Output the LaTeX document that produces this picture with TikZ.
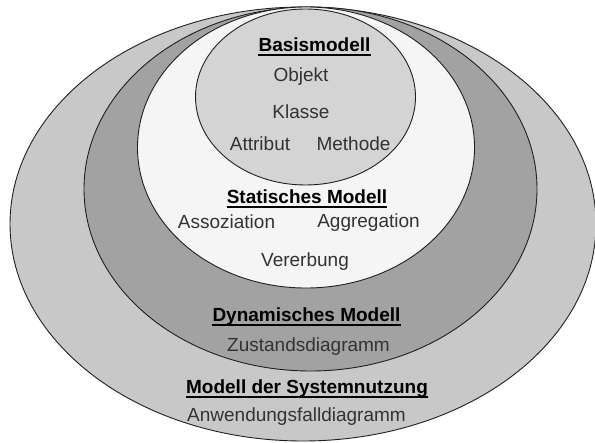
\documentclass[tikz,border=0pt]{standalone}
\usepackage{fontspec}
\setmainfont{Liberation Sans}
\definecolor{ringA}{HTML}{C8C8C8}
\definecolor{ringB}{HTML}{A2A2A2}
\definecolor{ringC}{HTML}{F5F5F5}
\definecolor{ringD}{HTML}{D4D4D4}
\definecolor{itemtext}{HTML}{333333}
\definecolor{edge}{HTML}{202020}
\begin{document}
\begin{tikzpicture}[x=1bp,y=-1bp,
  ring/.style={draw=edge,line width=0.9bp},
  heading/.style={anchor=base,inner sep=0pt,font=\fontsize{19bp}{22bp}\selectfont\bfseries,text=black},
  item/.style={anchor=base,inner sep=0pt,font=\fontsize{19bp}{22bp}\selectfont,text=itemtext},
  uline/.style={line width=2.8bp,black}]
\useasboundingbox (0,0) rectangle (595,443);
\fill[white] (0,0) rectangle (595,443);

% nested model layers, outermost first
\draw[ring,fill=ringA] (303,224) ellipse [x radius=293, y radius=217];
\draw[ring,fill=ringB] (310.5,189) ellipse [x radius=226.5, y radius=182];
\draw[ring,fill=ringC] (306,147.5) ellipse [x radius=168.5, y radius=140.5];
\draw[ring,fill=ringD] (305.5,97) ellipse [x radius=110, y radius=88];

% Basismodell
\node[heading] (basis) at (314.5,51.5) {Basismodell};
\draw[uline] ([yshift=-3.5bp]basis.base west) -- ([yshift=-3.5bp]basis.base east);
\node[item] (objekt) at (301,81.5) {Objekt};
\node[item] (klasse) at (301,118.5) {Klasse};
\node[item] (attribut) at (260,151) {Attribut};
\node[item] (methode) at (353.5,151) {Methode};

% Statisches Modell
\node[heading] (statisch) at (307,203.5) {Statisches Modell};
\draw[uline] ([yshift=-3.5bp]statisch.base west) -- ([yshift=-3.5bp]statisch.base east);
\node[item] (assoz) at (226.5,228.5) {Assoziation};
\node[item] (aggreg) at (368.5,228) {Aggregation};
\node[item] (vererb) at (305,266.5) {Vererbung};

% Dynamisches Modell
\node[heading] (dynam) at (306.5,321.5) {Dynamisches Modell};
\draw[uline] ([yshift=-3.5bp]dynam.base west) -- ([yshift=-3.5bp]dynam.base east);
\node[item] (zustand) at (308.5,351.5) {Zustandsdiagramm};

% Modell der Systemnutzung
\node[heading] (nutzung) at (307,393.5) {Modell der Systemnutzung};
\draw[uline] ([yshift=-3.5bp]nutzung.base west) -- ([yshift=-3.5bp]nutzung.base east);
\node[item] (anwend) at (296.5,421.5) {Anwendungsfalldiagramm};
\end{tikzpicture}
\end{document}
